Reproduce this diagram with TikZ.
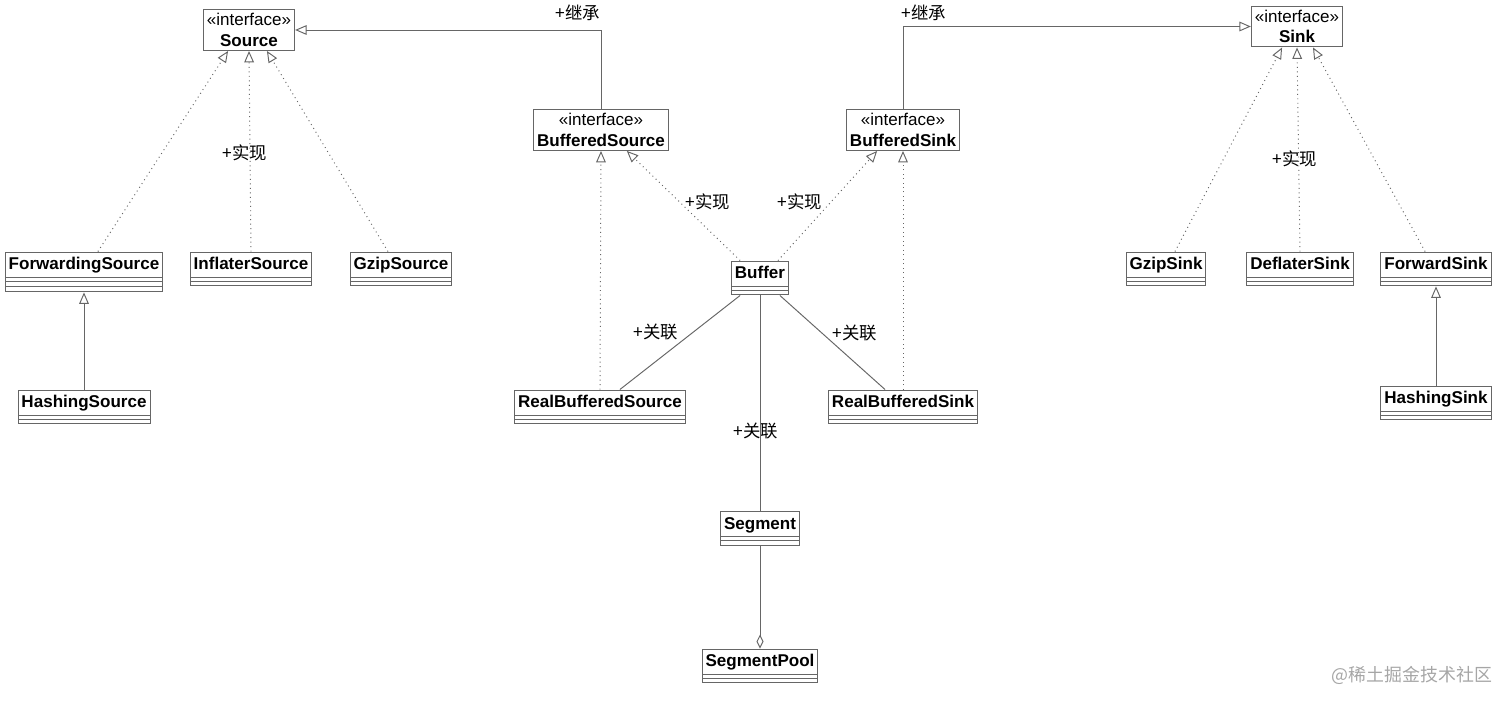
\documentclass[tikz,border=0pt]{standalone}
\usepackage{fontspec}
\setmainfont{Liberation Sans}
\newfontfamily\cjk{Noto Sans CJK SC}
\usepackage{tikz}
\usetikzlibrary{arrows.meta}
\definecolor{lc}{HTML}{666666}

\begin{document}
\begin{tikzpicture}[x=0.02cm, y=-0.02cm, line width=0.55pt,
  every node/.style={font=\fontsize{9.7}{11.6}\selectfont},
  intf/.style={draw=lc, fill=white, align=center, inner xsep=2pt, inner ysep=1pt, minimum height=23.3pt},
  cls/.style={draw=lc, fill=white, font=\fontsize{9.7}{11.6}\selectfont\bfseries, inner xsep=2pt, inner ysep=0pt,
    text height=10pt, text depth=9.3pt,
    path picture={\draw[lc, line width=0.55pt]
      ([yshift=-14.2pt]path picture bounding box.north west) -- ([yshift=-14.2pt]path picture bounding box.north east)
      ([yshift=-16.7pt]path picture bounding box.north west) -- ([yshift=-16.7pt]path picture bounding box.north east);}},
  clsw/.style={cls, text depth=12.7pt,
    path picture={\draw[lc, line width=0.55pt]
      ([yshift=-14.2pt]path picture bounding box.north west) -- ([yshift=-14.2pt]path picture bounding box.north east)
      ([yshift=-17pt]path picture bounding box.north west) -- ([yshift=-17pt]path picture bounding box.north east)
      ([yshift=-19.8pt]path picture bounding box.north west) -- ([yshift=-19.8pt]path picture bounding box.north east);}},
  lbl/.style={font=\fontsize{9.9}{11.6}\selectfont\cjk},
  inherit/.style={draw=lc, -{Triangle[open, length=6.5pt, width=5.5pt]}},
  realize/.style={draw=lc, dotted, -{Triangle[open, length=6.5pt, width=5.5pt]}},
  assoc/.style={draw=lc},
  aggr/.style={draw=lc, -{Diamond[open, length=8pt, width=4pt]}}]
\useasboundingbox (0,0) rectangle (1512,705);
\node[intf] (Src) at (249,30) {«interface»\\\textbf{Source}};
\node[intf] (BSrc) at (601,130) {«interface»\\\textbf{BufferedSource}};
\node[intf] (BSnk) at (903,130) {«interface»\\\textbf{BufferedSink}};
\node[intf] (Snk) at (1297,26.5) {«interface»\\\textbf{Sink}};
\node[clsw] (FwdSrc) at (84,272) {ForwardingSource};
\node[cls] (InfSrc) at (251,269) {InflaterSource};
\node[cls] (GzSrc) at (401,269) {GzipSource};
\node[cls] (HashSrc) at (84,407) {HashingSource};
\node[cls] (Buf) at (760,278) {Buffer};
\node[cls] (RBSrc) at (600,407) {RealBufferedSource};
\node[cls] (RBSnk) at (903,407) {RealBufferedSink};
\node[cls] (Seg) at (760,528.5) {Segment};
\node[cls] (Pool) at (760,666) {SegmentPool};
\node[cls] (GzSnk) at (1166,269) {GzipSink};
\node[cls] (DefSnk) at (1300,269) {DeflaterSink};
\node[cls] (FwdSnk) at (1436,269) {ForwardSink};
\node[cls] (HashSnk) at (1436,403) {HashingSink};
\node[lbl] (L1) at (578,13) {+继承};
\node[lbl] (L2) at (924,13) {+继承};
\node[lbl] (L3) at (245,153) {+实现};
\node[lbl] (L4) at (708,202) {+实现};
\node[lbl] (L5) at (800,202) {+实现};
\node[lbl] (L6) at (1295,159) {+实现};
\node[lbl] (L7) at (656,332) {+关联};
\node[lbl] (L8) at (855,333) {+关联};
\node[lbl] (L9) at (756,431) {+关联};
\node[font=\fontsize{10.2}{12}\selectfont\cjk, text=black!35] (WM) at (1412,675) {@稀土掘金技术社区};
\draw[inherit] (BSrc.north) |- (Src.east); \draw[inherit] (BSnk.north) |- (Snk.west);
\draw[realize] ([xshift=7.9pt]FwdSrc.north) -- ([xshift=-11.9pt]Src.south);
\draw[realize] (InfSrc.north) -- (Src.south);
\draw[realize] ([xshift=-7.4pt]GzSrc.north) -- ([xshift=10.2pt]Src.south);
\draw[inherit] (HashSrc.north) -- (FwdSrc.south);
\draw[realize] (RBSrc.north) -- (BSrc.south); \draw[realize] (RBSnk.north) -- (BSnk.south);
\draw[realize] ([xshift=-11.3pt]Buf.north) -- ([xshift=14.7pt]BSrc.south);
\draw[realize] ([xshift=10.2pt]Buf.north) -- ([xshift=-14.7pt]BSnk.south);
\draw[assoc] ([xshift=-11.3pt]Buf.south) -- ([xshift=11.3pt]RBSrc.north);
\draw[assoc] ([xshift=11.3pt]Buf.south) -- ([xshift=-10.2pt]RBSnk.north);
\draw[assoc] (Buf.south) -- (Seg.north); \draw[aggr] (Seg.south) -- (Pool.north);
\draw[realize] ([xshift=5.1pt]GzSnk.north) -- ([xshift=-8.5pt]Snk.south);
\draw[realize] (DefSnk.north) -- (Snk.south);
\draw[realize] ([xshift=-6.2pt]FwdSnk.north) -- ([xshift=9.1pt]Snk.south);
\draw[inherit] (HashSnk.north) -- (FwdSnk.south);
\end{tikzpicture}
\end{document}
